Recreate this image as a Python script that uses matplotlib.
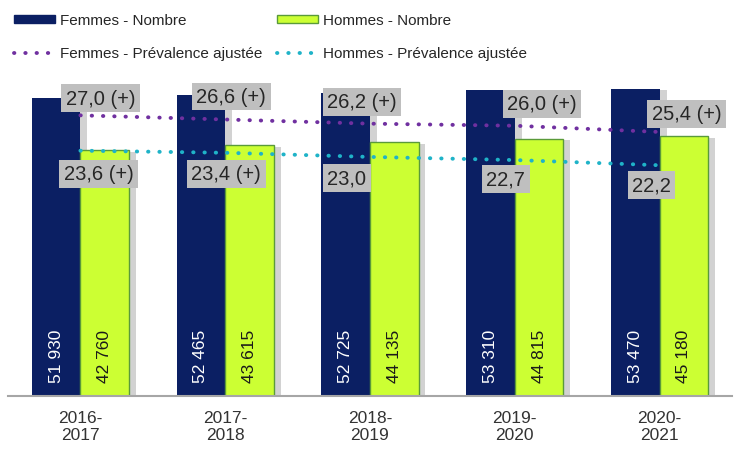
import numpy as np
import matplotlib
matplotlib.use("Agg")
import matplotlib.pyplot as plt
import matplotlib.patheffects as pe
from matplotlib.lines import Line2D
from matplotlib.patches import Patch

periods = ["2016-\n2017", "2017-\n2018", "2018-\n2019", "2019-\n2020", "2020-\n2021"]
femmes_nombre = [51930, 52465, 52725, 53310, 53470]
hommes_nombre = [42760, 43615, 44135, 44815, 45180]
femmes_prev = [27.0, 26.6, 26.2, 26.0, 25.4]
hommes_prev = [23.6, 23.4, 23.0, 22.7, 22.2]
femmes_prev_lbl = ["27,0 (+)", "26,6 (+)", "26,2 (+)", "26,0 (+)", "25,4 (+)"]
hommes_prev_lbl = ["23,6 (+)", "23,4 (+)", "23,0", "22,7", "22,2"]

# manual label placement (pixels), like the hand-placed labels in the original
F_OFF = [(20, 17), (6, 23), (-8, 22), (27, 22), (27, 18)]
H_OFF = [(18, -23), (1, -21), (-23, -21), (-9, -19), (-8, -20)]

NAVY = "#0b1f63"
GREEN = "#ccff33"
GREEN_EDGE = "#5a9a3a"
PURPLE = "#7030a0"
TEAL = "#1fb3c8"
BOX = "#bfbfbf"
FONT = ["Liberation Sans", "DejaVu Sans"]

W, H = 737, 452
fig = plt.figure(figsize=(W / 100, H / 100), dpi=100)
ax = fig.add_axes([8 / W, 55 / H, 724 / W, 316 / H])
ax2 = ax.twinx()

x = np.arange(len(periods))
bw = 0.335
shadow = [pe.SimplePatchShadow(offset=(5, -1), shadow_rgbFace="#808080", alpha=0.35), pe.Normal()]

bf = ax.bar(x - bw / 2, femmes_nombre, bw, color=NAVY, zorder=2)
bh = ax.bar(x + bw / 2, hommes_nombre, bw, color=GREEN, edgecolor=GREEN_EDGE, linewidth=1.0, zorder=2)
for b in list(bf) + list(bh):
    b.set_path_effects(shadow)

for xi, v in zip(x, femmes_nombre):
    ax.annotate(f"{v:,}".replace(",", " "), (xi - bw / 2, 0), xytext=(0, 14),
                textcoords="offset pixels", rotation=90, ha="center", va="bottom",
                color="white", fontsize=12.5, family=FONT, zorder=5)
for xi, v in zip(x, hommes_nombre):
    ax.annotate(f"{v:,}".replace(",", " "), (xi + bw / 2, 0), xytext=(0, 14),
                textcoords="offset pixels", rotation=90, ha="center", va="bottom",
                color="#1a1a1a", fontsize=12.5, family=FONT, zorder=5)

ax.set_xlim(-0.5, 4.5)
ax.set_ylim(0, 55000)
ax2.set_ylim(0, 30.4)

dots = (0, (0.1, 2.8))
lf, = ax2.plot(x, femmes_prev, color=PURPLE, lw=2.8, linestyle=dots, dash_capstyle="round", zorder=3)
lh, = ax2.plot(x, hommes_prev, color=TEAL, lw=2.8, linestyle=dots, dash_capstyle="round", zorder=3)

box = dict(boxstyle="square,pad=0.22", fc=BOX, ec="none")
for xi, v, t, (dx, dy) in zip(x, femmes_prev, femmes_prev_lbl, F_OFF):
    ax2.annotate(t, (xi, v), xytext=(dx, dy), textcoords="offset pixels", ha="center",
                 va="center", fontsize=14.5, family=FONT, color="#262626", bbox=box, zorder=6)
for xi, v, t, (dx, dy) in zip(x, hommes_prev, hommes_prev_lbl, H_OFF):
    ax2.annotate(t, (xi, v), xytext=(dx, dy), textcoords="offset pixels", ha="center",
                 va="center", fontsize=14.5, family=FONT, color="#262626", bbox=box, zorder=6)

for a in (ax, ax2):
    for s in ("top", "right", "left"):
        a.spines[s].set_visible(False)
    a.set_yticks([])
ax2.spines["bottom"].set_visible(False)
ax.spines["bottom"].set_color("#a6a6a6")
ax.spines["bottom"].set_linewidth(1.5)
ax.set_xticks(x)
ax.set_xticklabels(periods, fontsize=12.5, family=FONT, color="#333333", linespacing=1.15)
ax.tick_params(axis="x", length=0, pad=10)

handles = [
    Patch(facecolor=NAVY, edgecolor=NAVY, label="Femmes - Nombre"),
    Line2D([], [], color=PURPLE, lw=2.8, linestyle=dots, dash_capstyle="round",
           label="Femmes - Prévalence ajustée"),
    Patch(facecolor=GREEN, edgecolor=GREEN_EDGE, label="Hommes - Nombre"),
    Line2D([], [], color=TEAL, lw=2.8, linestyle=dots, dash_capstyle="round",
           label="Hommes - Prévalence ajustée"),
]
leg = fig.legend(handles=handles, ncol=2, loc="upper left",
                 bbox_to_anchor=(8 / W, 1 - 8 / H), frameon=False,
                 prop={"family": FONT, "size": 11}, handlelength=2.7, handleheight=0.45,
                 handletextpad=0.33, columnspacing=0.9, labelspacing=1.26, borderaxespad=0)
for t in leg.get_texts():
    t.set_color("#262626")

fig.savefig("out.png", dpi=100)
